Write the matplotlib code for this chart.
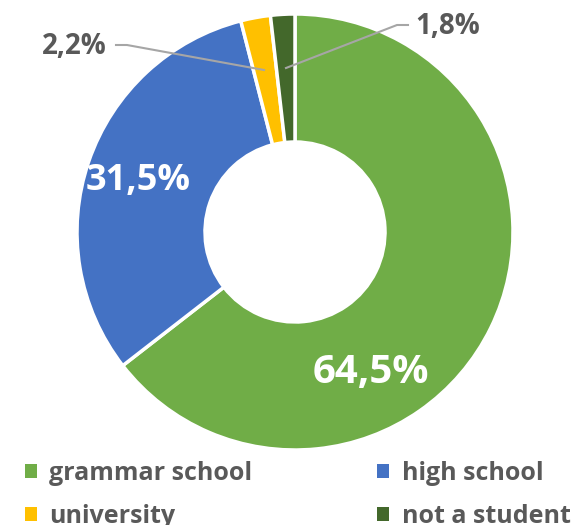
import matplotlib.pyplot as plt
from matplotlib.patches import Patch

labels = ["grammar school", "high school", "university", "not a student"]
values = [64.5, 31.5, 2.2, 1.8]
colors = ["#70AD47", "#4472C4", "#FFC000", "#43682B"]
pct_text = ["64,5%", "31,5%", "2,2%", "1,8%"]

plt.rcParams['font.family'] = ['Open Sans', 'DejaVu Sans']
plt.rcParams['font.weight'] = 'bold'

fig = plt.figure(figsize=(5.84, 5.25), dpi=100)
ax = fig.add_axes([0, 0, 1, 1])

cx, cy, r = 295, 525 - 232, 218
wedges, _ = ax.pie(values, colors=colors, startangle=90, counterclock=False,
                   center=(cx, cy), radius=r, frame=True,
                   wedgeprops=dict(width=128, edgecolor='white', linewidth=2.5))
ax.set_xlim(0, 584)
ax.set_ylim(0, 525)
ax.set_aspect('equal')
ax.axis('off')

grey = "#595959"
ax.text(371, 525 - 372, pct_text[0], color='white', fontsize=29, fontweight='bold',
        ha='center', va='center')
ax.text(138, 525 - 181, pct_text[1], color='white', fontsize=26, fontweight='bold',
        ha='center', va='center')
ax.text(74, 525 - 47, pct_text[2], color=grey, fontsize=20, fontweight='bold',
        ha='center', va='center')
ax.text(448, 525 - 26, pct_text[3], color=grey, fontsize=20, fontweight='bold',
        ha='center', va='center')

lc = "#A6A6A6"
ax.plot([116, 127, 264], [525 - 45, 525 - 45, 525 - 70], color=lc, lw=1.5)
ax.plot([286, 397, 408], [525 - 68, 525 - 25, 525 - 25], color=lc, lw=1.5)

# legend filled row by row like the original
order = [0, 2, 1, 3]
handles = [Patch(facecolor=colors[i], edgecolor='none') for i in order]
ax.legend(handles, [labels[i] for i in order], ncol=2, loc='lower left',
          bbox_to_anchor=(0.004, -0.05), frameon=False, labelcolor=grey,
          handlelength=0.48, handleheight=0.48, handletextpad=0.5,
          columnspacing=5.0, labelspacing=0.7,
          prop=dict(family=['Open Sans', 'DejaVu Sans'], weight='bold', size=18))

fig.savefig("out.png", dpi=100)
